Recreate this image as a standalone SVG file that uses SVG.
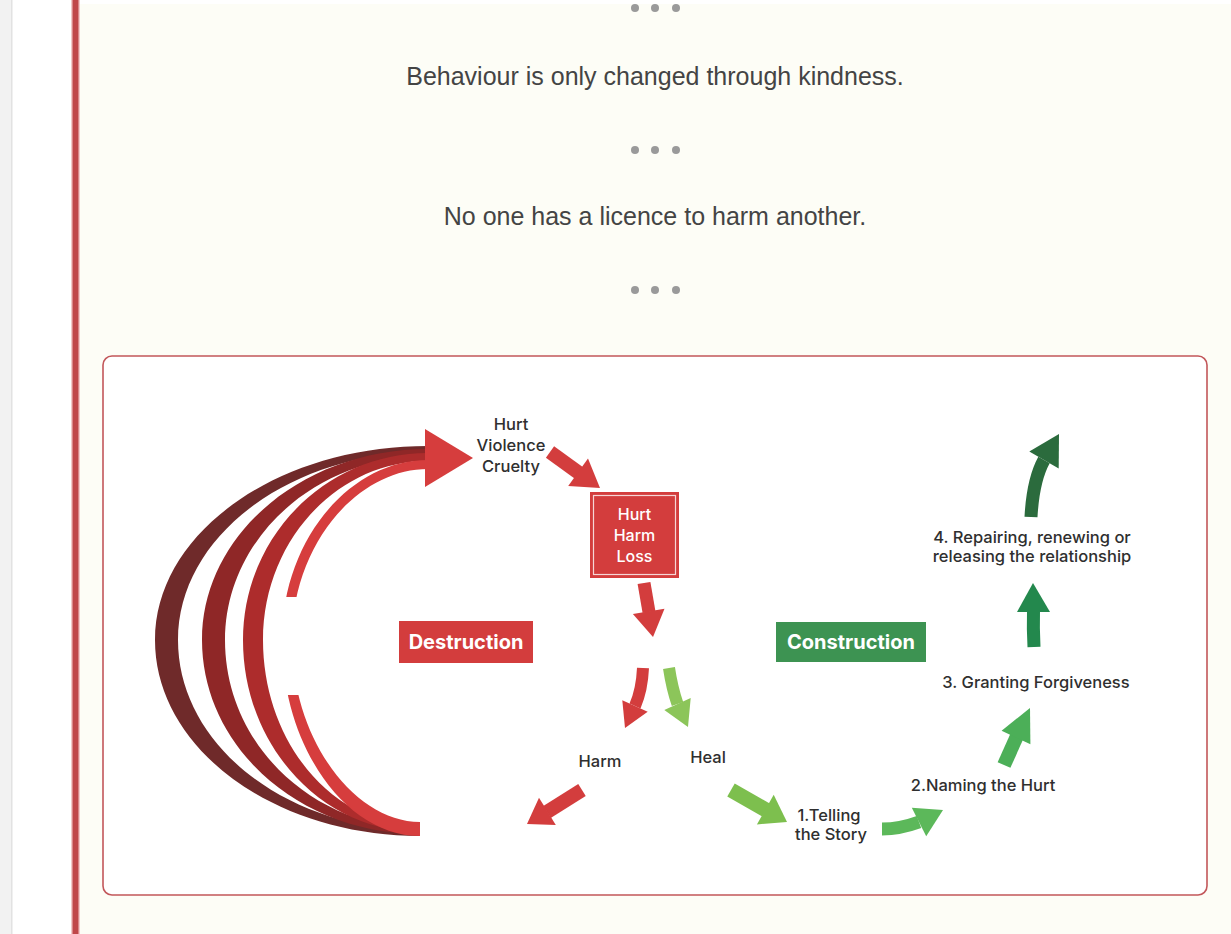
<svg xmlns="http://www.w3.org/2000/svg" width="1231" height="934" viewBox="0 0 1231 934">
<style>
.quote{font-family:"Liberation Sans",Arial,sans-serif;font-size:25px;fill:#444444;text-anchor:middle}
.dot{fill:#9a9a9a}
.lbl{font-family:Inter,"Open Sans",sans-serif;font-size:16.5px;font-weight:500;fill:#2f2f2f;text-anchor:middle}
.wlbl{font-family:Inter,"Open Sans",sans-serif;font-size:16px;font-weight:500;fill:#ffffff;text-anchor:middle}
.tag{font-family:Inter,"Open Sans",sans-serif;font-size:20px;font-weight:700;fill:#ffffff;text-anchor:middle}
.stem{fill:none;stroke-linecap:butt}
</style>
<defs>
<clipPath id="gapclip">
<rect x="0" y="0" width="1231" height="597"/>
<rect x="0" y="695" width="1231" height="240"/>
</clipPath>
</defs>
<!-- page background -->
<rect x="0" y="0" width="1231" height="934" fill="#fdfdf6"/>
<rect x="0" y="0" width="72" height="934" fill="#ffffff"/>
<rect x="0" y="0" width="11" height="934" fill="#f2f2f2"/>
<rect x="11" y="0" width="1.5" height="934" fill="#e2e2e2"/>
<rect x="79" y="0" width="1152" height="4" fill="#ffffff"/>
<rect x="71" y="0" width="9" height="934" fill="#f3c9c9"/>
<rect x="72.5" y="0" width="6" height="934" fill="#c0474a"/>

<!-- quotes -->
<g id="dots1"><circle class="dot" cx="635" cy="8" r="4"/><circle class="dot" cx="655" cy="8" r="4"/><circle class="dot" cx="676" cy="8" r="4"/></g>
<text id="quote1" class="quote" x="655" y="85">Behaviour is only changed through kindness.</text>
<g id="dots2"><circle class="dot" cx="635" cy="150" r="4"/><circle class="dot" cx="655" cy="150" r="4"/><circle class="dot" cx="676" cy="150" r="4"/></g>
<text id="quote2" class="quote" x="655" y="225">No one has a licence to harm another.</text>
<g id="dots3"><circle class="dot" cx="635" cy="290" r="4"/><circle class="dot" cx="655" cy="290" r="4"/><circle class="dot" cx="676" cy="290" r="4"/></g>

<!-- card -->
<rect id="card" x="103" y="356" width="1104" height="539" rx="9" fill="#ffffff" stroke="#c2575a" stroke-width="1.6"/>

<!-- cycle crescent arrows -->
<g id="cycle">
<path fill="#6f2a2a" d="M428,446 C277.2,446 155,532.9 155,640 C155,748.3 273.6,836 420,836 L420,830 C286.3,830 178,744.9 178,640 C178,536.2 289.9,452 428,452 Z"/>
<path fill="#8f2727" d="M428,449 C303.2,449 202,534.5 202,640 C202,747.1 299.6,834 420,834 L420,828 C312.3,828 225,743.8 225,640 C225,538.4 315.9,456 428,456 Z"/>
<path fill="#ad2c2c" d="M428,453 C325.8,453 243,536.7 243,640 C243,746 322.2,832 420,832 L420,826 C333.3,826 263,742.7 263,640 C263,541.1 336.9,461 428,461 Z"/>
<path fill="#d63d3d" clip-path="url(#gapclip)" d="M428,460 C350,460 282,540 282,640 C282,745 345,836 420,836 L420,822 C355,822 292,740 292,640 C292,545 357,469 428,469 Z"/>
<polygon fill="#d63d3d" points="425,429 473,458 425,487"/>
</g>

<!-- nodes -->
<g id="n-hvc">
<text class="lbl" x="511" y="430">Hurt</text>
<text class="lbl" x="511" y="451">Violence</text>
<text class="lbl" x="511" y="472">Cruelty</text>
</g>
<g id="n-hhl">
<rect x="590" y="492" width="89" height="86" fill="#d33d3d"/>
<rect x="593.5" y="495.5" width="82" height="79" fill="none" stroke="#f6d6d6" stroke-width="1.2"/>
<text class="wlbl" x="634.5" y="520">Hurt</text>
<text class="wlbl" x="634.5" y="541">Harm</text>
<text class="wlbl" x="634.5" y="562">Loss</text>
</g>
<g id="n-destruction">
<rect x="399" y="621" width="134" height="42" fill="#d33d3d"/>
<text class="tag" x="466" y="649">Destruction</text>
</g>
<g id="n-construction">
<rect x="776" y="622" width="150" height="40" fill="#3d9352"/>
<text class="tag" x="851" y="649">Construction</text>
</g>
<g id="n-harm"><text class="lbl" x="600" y="767">Harm</text></g>
<g id="n-heal"><text class="lbl" x="708" y="763">Heal</text></g>
<g id="n-step1">
<text class="lbl" x="829" y="821">1.Telling</text>
<text class="lbl" x="831" y="840">the Story</text>
</g>
<g id="n-step2"><text class="lbl" x="983" y="791">2.Naming the Hurt</text></g>
<g id="n-step3"><text class="lbl" x="1036" y="688">3. Granting Forgiveness</text></g>
<g id="n-step4">
<text class="lbl" x="1032" y="543">4. Repairing, renewing or</text>
<text class="lbl" x="1032" y="562">releasing the relationship</text>
</g>

<!-- connectors -->
<g id="connectors">
<g id="e-hvc-hhl"><path class="stem" d="M550,452 L579,473" stroke="#d33d3d" stroke-width="14"/><polygon fill="#d33d3d" points="568.2,486 600,488 588,458.4"/></g>
<g id="e-hhl-split"><path class="stem" d="M644,583 L649,612" stroke="#d33d3d" stroke-width="13"/><polygon fill="#d33d3d" points="632.9,613.9 653,637 664.5,608.7"/></g>
<g id="e-harm"><path class="stem" d="M643,668 Q642,690 635,706" stroke="#d33d3d" stroke-width="12"/><polygon fill="#d33d3d" points="647.7,711.8 625,728 622.3,700.2"/></g>
<g id="e-heal"><path class="stem" d="M669,668 Q672,688 677.5,704" stroke="#8cc55a" stroke-width="12"/><polygon fill="#8cc55a" points="664.3,710 688,727 690.7,698"/></g>
<g id="e-harm-out"><path class="stem" d="M582,790 L547,812" stroke="#d33d3d" stroke-width="14"/><polygon fill="#d33d3d" points="555.8,825 527,824 539,797.8"/></g>
<g id="e-heal-1"><path class="stem" d="M731,790 L766,810" stroke="#7dbf4e" stroke-width="15"/><polygon fill="#7dbf4e" points="756.9,824.4 787,822 773.7,794.8"/></g>
<g id="e-1-2"><path class="stem" d="M882,829 Q900,829 919,822" stroke="#5cb85a" stroke-width="13"/><polygon fill="#5cb85a" points="926.2,836.3 943,810 911.8,807.7"/></g>
<g id="e-2-3"><path class="stem" d="M1004,765 L1017,736" stroke="#4caf58" stroke-width="14"/><polygon fill="#4caf58" points="1030.4,744.3 1030,708 1001.6,730.7"/></g>
<g id="e-3-4"><path class="stem" d="M1034,647 Q1033,628 1033.5,611" stroke="#23884d" stroke-width="13"/><polygon fill="#23884d" points="1017,612 1033,583 1050,612"/></g>
<g id="e-4-out"><path class="stem" d="M1031,517 Q1033,480 1044,460" stroke="#2b6b3d" stroke-width="13"/><polygon fill="#2b6b3d" points="1058.7,468.5 1059,434 1029.3,451.5"/></g>
</g>
</svg>
